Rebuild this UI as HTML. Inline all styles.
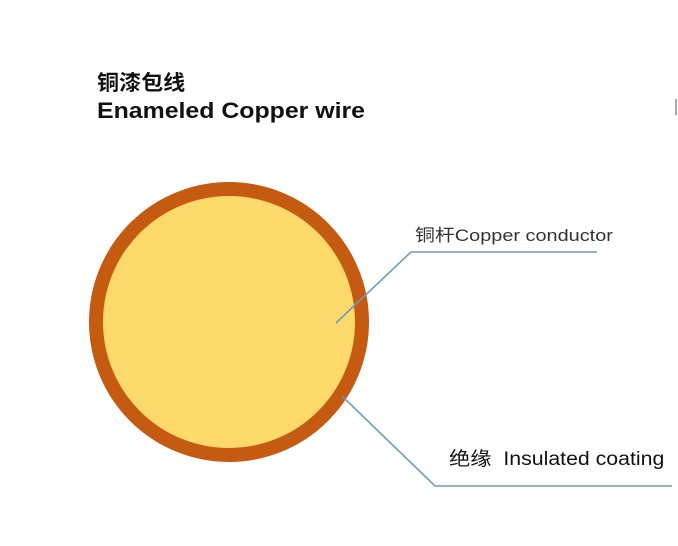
<!DOCTYPE html>
<html><head><meta charset="utf-8"><style>
body{margin:0;width:678px;height:546px;background:#fff;overflow:hidden;position:relative;font-family:"Liberation Sans","Noto Sans CJK SC",sans-serif}
.t{position:absolute;white-space:nowrap;transform-origin:0 50%}
</style></head><body>
<div class="t" style="left:97px;top:67px;font-size:21px;font-weight:bold;color:#111;transform:scaleX(1.05)">铜漆包线</div>
<div class="t" style="left:97px;top:98px;font-size:22px;font-weight:bold;color:#111;transform:scaleX(1.13)">Enameled Copper wire</div>
<div class="t" style="left:415px;top:221px;font-size:17px;color:#333;transform:scaleX(1.17)">铜杆Copper conductor</div>
<div class="t" style="left:449px;top:444px;font-size:19px;color:#111;transform:scaleX(1.12)">绝缘&nbsp; Insulated coating</div>
<svg width="678" height="546" style="position:absolute;left:0;top:0">
<circle cx="229" cy="322" r="133" fill="#fdd86a" stroke="#c55a11" stroke-width="14"/>
<polyline points="336,323 411,252 597,252" fill="none" stroke="#6e9ac0" stroke-width="1.6"/>
<polyline points="342,396 435,486 672,486" fill="none" stroke="#6e9ac0" stroke-width="1.6"/>
<line x1="676" y1="99" x2="676" y2="115" stroke="#aaa" stroke-width="2"/>
</svg>
</body></html>
